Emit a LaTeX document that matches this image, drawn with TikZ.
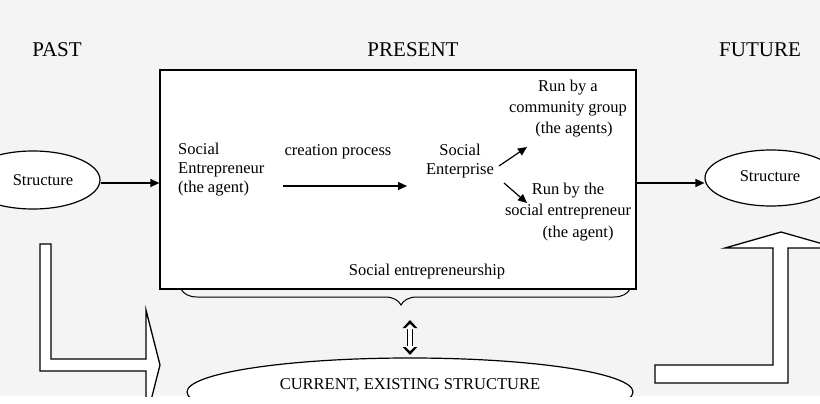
\documentclass[tikz,border=0pt]{standalone}
\usepackage{fontspec}
\setmainfont{Liberation Serif}
\usetikzlibrary{arrows.meta,decorations.pathreplacing,shapes.geometric}
\definecolor{bg}{HTML}{F4F4F4}
\begin{document}
\begin{tikzpicture}[x=1pt,y=-1pt,
  lbl/.style={font=\fontsize{16.5}{19}\selectfont,inner sep=0pt},
  big/.style={font=\fontsize{21}{24}\selectfont,inner sep=0pt},
  ln/.style={line width=1.2pt},
  arr/.style={ln,-{Triangle[length=9pt,width=8pt]}},
  shapeln/.style={line width=1.3pt,fill=white,line join=miter}]
\useasboundingbox (0,0) rectangle (820,404);
\fill[white] (0,0) rectangle (820,404);
\fill[bg] (0,0) rectangle (820,396);
\begin{scope}
\clip (0,0) rectangle (820,396);
\node[big] (past) at (57,50) {PAST};
\node[big] (present) at (413,50) {PRESENT};
\node[big] (future) at (760,50) {FUTURE};
\node[draw,ln,fill=white,minimum width=476pt,minimum height=219pt,inner sep=0pt] (box) at (398,179.5) {};
\node[draw,ln,fill=white,ellipse,minimum width=134pt,minimum height=58pt,inner sep=0pt] (sl) at (33,180) {};
\node[lbl] (slt) at (43,180) {Structure};
\node[draw,ln,fill=white,ellipse,minimum width=132pt,minimum height=56pt,inner sep=0pt] (sr) at (771,178) {};
\node[lbl] (srt) at (770,176) {Structure};
\draw[arr] (sl.east |- 0,183) -- (box.west |- 0,183);
\draw[arr] (box.east |- 0,183) -- (sr.west |- 0,183);
\node[lbl,align=left,anchor=north west,font=\fontsize{16.5}{19}\selectfont] (se) at (178,143) {Social\\Entrepreneur\\(the agent)};
\node[lbl] (cp) at (338,152) {creation process};
\node[lbl,align=center,font=\fontsize{16.5}{19}\selectfont] (ent) at (460,161) {Social\\Enterprise};
\coordinate (a1) at (283,186); \coordinate (a2) at (407,186);
\draw[arr] (a1) -- (a2);
\node[lbl,align=center,font=\fontsize{16.5}{21}\selectfont] (rc) at (568,109) {Run by a\\community group\\\hspace*{12pt}(the agents)};
\node[lbl,align=center,font=\fontsize{16.5}{21.5}\selectfont] (rs) at (568,212) {Run by the\\social entrepreneur\\\hspace*{20pt}(the agent)};
\coordinate (b1) at (499,166); \coordinate (b2) at (527,147);
\coordinate (c1) at (504,183); \coordinate (c2) at (527,203);
\draw[arr] (b1) -- (b2);
\draw[arr] (c1) -- (c2);
\node[lbl] (sep) at (427,272) {Social entrepreneurship};
\coordinate (br1) at (630,289); \coordinate (br2) at (181,289);
\draw[line width=1pt,decorate,decoration={brace,amplitude=16pt,aspect=0.51}] (br1) -- (br2);
\node[draw,ln,fill=white,ellipse,minimum width=446pt,minimum height=68pt,inner sep=0pt] (cur) at (410,392) {};
\node[lbl] (curt) at (410,385) {CURRENT, EXISTING STRUCTURE};
\coordinate (d1) at (410,320); \coordinate (d2) at (410,355);
\draw[line width=6pt,{Triangle[length=8pt,width=14pt]}-{Triangle[length=8pt,width=14pt]}] (d1) -- (d2);
\draw[line width=3.6pt,white,shorten <=4pt,shorten >=4pt,{Triangle[length=5pt,width=10pt]}-{Triangle[length=5pt,width=10pt]}] (d1) -- (d2);
\draw[shapeln] (40,244) -- (51,244) -- (51,359) -- (146,359) -- (146,310) -- (160,365) -- (146,420) -- (146,371) -- (40,371) -- cycle;
\draw[shapeln] (655,365) -- (773,365) -- (773,248) -- (725,248) -- (781,232) -- (837,248) -- (788,248) -- (788,383) -- (655,383) -- cycle;
\end{scope}
\end{tikzpicture}
\end{document}
